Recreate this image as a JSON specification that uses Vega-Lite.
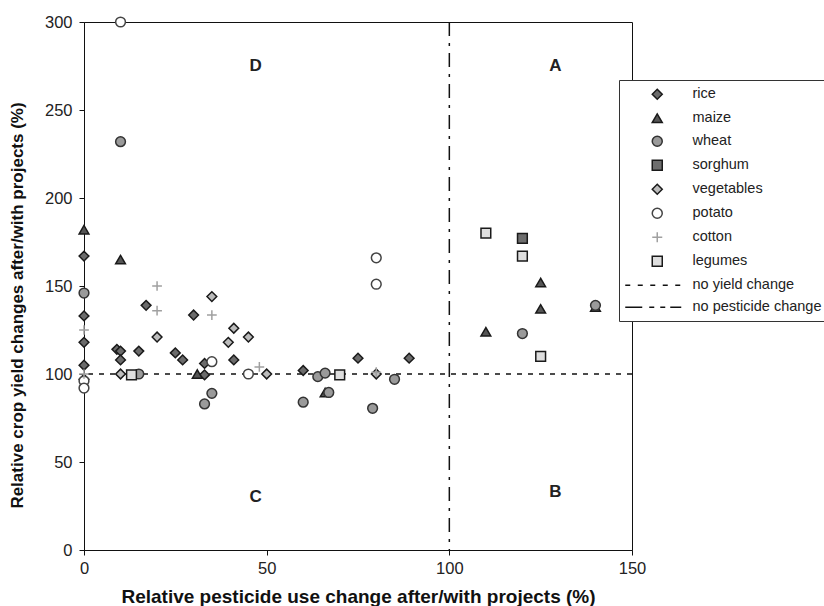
{
  "$schema": "https://vega.github.io/schema/vega-lite/v6.json",
  "width": 548,
  "height": 528,
  "autosize": {"type": "none"},
  "padding": {"left": 84, "top": 22, "right": 192, "bottom": 56},
  "background": "white",
  "config": {
    "view": {"stroke": "#111", "strokeWidth": 1},
    "font": "Liberation Sans",
    "axis": {
      "grid": false,
      "domainColor": "#111",
      "tickColor": "#111",
      "tickSize": 5,
      "labelFontSize": 16.5,
      "labelColor": "#222",
      "labelFlush": false,
      "titleFontWeight": "bold",
      "titleColor": "#111"
    },
    "legend": {
      "orient": "none",
      "legendX": 535,
      "legendY": 58,
      "title": null,
      "strokeColor": "#333",
      "fillColor": "white",
      "padding": 7,
      "symbolSize": 100,
      "symbolStrokeWidth": 1.5,
      "symbolOffset": 24,
      "labelOffset": 28,
      "labelFontSize": 14.5,
      "labelColor": "#222",
      "labelLimit": 300,
      "rowPadding": 7
    }
  },
  "layer": [
    {
      "data": {"values": [{"line": "no yield change", "v": 100}]},
      "mark": {"type": "rule", "color": "#111", "strokeWidth": 1.5, "strokeDash": [5, 6]},
      "encoding": {"y": {"field": "v", "type": "quantitative"}}
    },
    {
      "data": {"values": [{"line": "no pesticide change", "v": 100}]},
      "mark": {"type": "rule", "color": "#111", "strokeWidth": 1.5, "strokeDash": [14, 7, 3, 7]},
      "encoding": {"x": {"field": "v", "type": "quantitative"}}
    },
    {
      "data": {"values": [
        {"crop": "rice", "x": 0, "y": 167},
        {"crop": "rice", "x": 0, "y": 133},
        {"crop": "rice", "x": 0, "y": 118},
        {"crop": "rice", "x": 0, "y": 105},
        {"crop": "rice", "x": 0, "y": 97},
        {"crop": "rice", "x": 9, "y": 114},
        {"crop": "rice", "x": 10, "y": 113},
        {"crop": "rice", "x": 10, "y": 108},
        {"crop": "rice", "x": 15, "y": 113},
        {"crop": "rice", "x": 17, "y": 139},
        {"crop": "rice", "x": 25, "y": 112},
        {"crop": "rice", "x": 27, "y": 108},
        {"crop": "rice", "x": 30, "y": 133.5},
        {"crop": "rice", "x": 33, "y": 106},
        {"crop": "rice", "x": 33, "y": 99.5},
        {"crop": "rice", "x": 41, "y": 108},
        {"crop": "rice", "x": 60, "y": 102},
        {"crop": "rice", "x": 75, "y": 109},
        {"crop": "rice", "x": 89, "y": 109},
        {"crop": "maize", "x": 0, "y": 182},
        {"crop": "maize", "x": 10, "y": 165},
        {"crop": "maize", "x": 31, "y": 100},
        {"crop": "maize", "x": 66, "y": 89.5},
        {"crop": "maize", "x": 110, "y": 124},
        {"crop": "maize", "x": 125, "y": 152},
        {"crop": "maize", "x": 125, "y": 137},
        {"crop": "maize", "x": 140, "y": 138},
        {"crop": "wheat", "x": 0, "y": 146},
        {"crop": "wheat", "x": 10, "y": 232},
        {"crop": "wheat", "x": 15, "y": 100},
        {"crop": "wheat", "x": 33, "y": 83},
        {"crop": "wheat", "x": 35, "y": 89},
        {"crop": "wheat", "x": 60, "y": 84},
        {"crop": "wheat", "x": 64, "y": 98.5},
        {"crop": "wheat", "x": 66, "y": 100.5},
        {"crop": "wheat", "x": 67, "y": 89.5},
        {"crop": "wheat", "x": 79, "y": 80.5},
        {"crop": "wheat", "x": 85, "y": 97},
        {"crop": "wheat", "x": 120, "y": 123},
        {"crop": "wheat", "x": 140, "y": 139},
        {"crop": "sorghum", "x": 120, "y": 177},
        {"crop": "vegetables", "x": 10, "y": 100},
        {"crop": "vegetables", "x": 20, "y": 121},
        {"crop": "vegetables", "x": 35, "y": 144},
        {"crop": "vegetables", "x": 39.5, "y": 118},
        {"crop": "vegetables", "x": 41, "y": 126},
        {"crop": "vegetables", "x": 45, "y": 121},
        {"crop": "vegetables", "x": 50, "y": 100},
        {"crop": "vegetables", "x": 80, "y": 100},
        {"crop": "potato", "x": 0, "y": 96},
        {"crop": "potato", "x": 0, "y": 92},
        {"crop": "potato", "x": 10, "y": 300},
        {"crop": "potato", "x": 35, "y": 107},
        {"crop": "potato", "x": 45, "y": 100},
        {"crop": "potato", "x": 80, "y": 166},
        {"crop": "potato", "x": 80, "y": 151},
        {"crop": "cotton", "x": 0, "y": 125},
        {"crop": "cotton", "x": 0, "y": 100},
        {"crop": "cotton", "x": 20, "y": 150},
        {"crop": "cotton", "x": 20, "y": 136},
        {"crop": "cotton", "x": 35, "y": 133.5},
        {"crop": "cotton", "x": 48, "y": 104},
        {"crop": "cotton", "x": 80, "y": 101},
        {"crop": "legumes", "x": 13, "y": 99.5},
        {"crop": "legumes", "x": 70, "y": 99.5},
        {"crop": "legumes", "x": 110, "y": 180},
        {"crop": "legumes", "x": 120, "y": 167},
        {"crop": "legumes", "x": 125, "y": 110}
      ]},
      "mark": {"type": "point", "filled": true, "size": 95, "strokeWidth": 1.5, "opacity": 1},
      "encoding": {
        "x": {
          "field": "x", "type": "quantitative",
          "scale": {"domain": [0, 150], "nice": false},
          "axis": {"values": [0, 50, 100, 150], "title": "Relative pesticide use change after/with projects (%)", "labelPadding": 5, "titlePadding": 11, "titleFontSize": 19}
        },
        "y": {
          "field": "y", "type": "quantitative",
          "scale": {"domain": [0, 300], "nice": false},
          "axis": {"values": [0, 50, 100, 150, 200, 250, 300], "title": "Relative crop yield changes after/with projects (%)", "labelPadding": 7, "titlePadding": 18, "titleFontSize": 17, "titleY": 283}
        },
        "shape": {
          "field": "crop", "type": "nominal",
          "scale": {
            "domain": ["rice", "maize", "wheat", "sorghum", "vegetables", "potato", "cotton", "legumes", "no yield change", "no pesticide change"],
            "range": ["diamond", "triangle-up", "circle", "square", "diamond", "circle", "M-1,0H1M0,-1V1", "square",
              "M-6.4,0H-5.4M-3.9,0H-2.9M-1.4,0H-0.4M1.1,0H2.1M3.6,0H4.6",
              "M-6.4,0H-3M-1.6,0H-0.6M0.6,0H1.6M2.6,0H4.8"]
          }
        },
        "fill": {
          "field": "crop", "type": "nominal",
          "scale": {
            "domain": ["rice", "maize", "wheat", "sorghum", "vegetables", "potato", "cotton", "legumes", "no yield change", "no pesticide change"],
            "range": ["#6b6b6b", "#555555", "#9a9a9a", "#6e6e6e", "#bcbcbc", "#ffffff", "transparent", "#dedede", "transparent", "transparent"]
          }
        },
        "stroke": {
          "field": "crop", "type": "nominal",
          "scale": {
            "domain": ["rice", "maize", "wheat", "sorghum", "vegetables", "potato", "cotton", "legumes", "no yield change", "no pesticide change"],
            "range": ["#1a1a1a", "#1a1a1a", "#333333", "#1a1a1a", "#1a1a1a", "#444444", "#a0a0a0", "#1a1a1a", "#111111", "#111111"]
          }
        }
      }
    },
    {
      "data": {"values": [
        {"label": "D", "x": 47, "y": 275},
        {"label": "A", "x": 129, "y": 275},
        {"label": "C", "x": 47, "y": 30},
        {"label": "B", "x": 129, "y": 33}
      ]},
      "mark": {"type": "text", "fontSize": 17, "fontWeight": "bold", "color": "#222"},
      "encoding": {
        "x": {"field": "x", "type": "quantitative"},
        "y": {"field": "y", "type": "quantitative"},
        "text": {"field": "label"}
      }
    }
  ]
}
